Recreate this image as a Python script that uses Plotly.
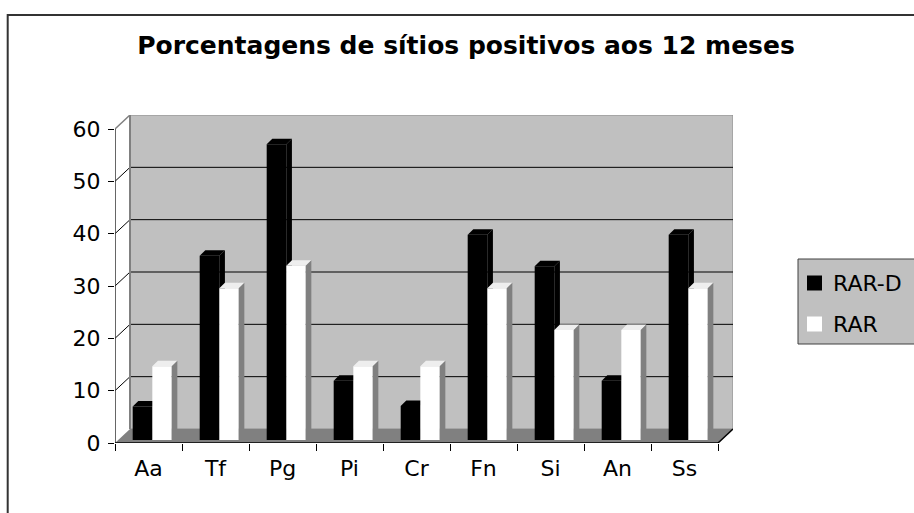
import plotly.graph_objects as go

# ---------------- data ----------------
categories = ["Aa", "Tf", "Pg", "Pi", "Cr", "Fn", "Si", "An", "Ss"]
rar_d = [6.4, 35.2, 56.5, 11.3, 6.5, 39.2, 33.2, 11.3, 39.2]
rar = [14.1, 29.0, 33.3, 14.1, 14.1, 29.0, 21.0, 21.0, 29.0]
y_ticks = [0, 10, 20, 30, 40, 50, 60]
series_names = ["RAR-D", "RAR"]
title_text = "Porcentagens de sítios positivos aos 12 meses"

# ---------------- geometry (screen pixels) ----------------
W, H = 914, 513
PLOT_L, PLOT_R, PLOT_T, PLOT_B = 115, 733, 115, 443
CAT_PX = 67.0
UNIT_PX = 314.0 / 60.0
X0 = -0.5
XMAX = X0 + (PLOT_R - PLOT_L) / CAT_PX
YMAX = (PLOT_B - PLOT_T) / UNIT_PX
NCAT = len(categories)
XEND = X0 + NCAT

WDX = 15 / CAT_PX      # wall depth
WDY = 14 / UNIT_PX
BDX = 5.6 / CAT_PX     # column depth
BDY = 5.5 / UNIT_PX
BAR_BASE = 3 / UNIT_PX
BLK_OFF, BLK_W = -0.236, 0.293
WHT_OFF, WHT_W = 0.057, 0.29
YTOP = max(y_ticks)

FONT = "DejaVu Sans"


def px_x(px):
    return (px - PLOT_L) / (PLOT_R - PLOT_L)


def px_y(py):
    return (PLOT_B - py) / (PLOT_B - PLOT_T)


def faces(values, off, width):
    """top + side faces of the pseudo-3D columns, in data coordinates"""
    tx, ty, sx, sy = [], [], [], []
    for i, v in enumerate(values):
        x0 = i + off
        x1 = x0 + width
        top = BAR_BASE + v
        tx += [x0, x0 + BDX, x1 + BDX, x1, x0, None]
        ty += [top, top + BDY, top + BDY, top, top, None]
        sx += [x1, x1, x1 + BDX, x1 + BDX, x1, None]
        sy += [BAR_BASE, top, top + BDY, BAR_BASE + BDY, BAR_BASE, None]
    return tx, ty, sx, sy


fig = go.Figure()

specs = [
    (rar_d, BLK_OFF, BLK_W, "#000000", "#000000", "#000000", 0, series_names[0]),
    (rar, WHT_OFF, WHT_W, "#FFFFFF", "#EEEEEE", "#808080", 1, series_names[1]),
]
for vals, off, wid, front, topc, sidec, z, name in specs:
    fig.add_trace(go.Bar(
        x=list(range(NCAT)), y=vals, base=BAR_BASE, offset=off, width=wid,
        marker=dict(color=front, line=dict(width=0)), name=name,
        showlegend=False, zorder=z, hoverinfo="skip"))
    tx, ty, sx, sy = faces(vals, off, wid)
    fig.add_trace(go.Scatter(x=tx, y=ty, mode="lines", fill="toself",
                             fillcolor=topc, line=dict(width=0, color=topc),
                             showlegend=False, hoverinfo="skip", zorder=z))
    fig.add_trace(go.Scatter(x=sx, y=sy, mode="lines", fill="toself",
                             fillcolor=sidec, line=dict(width=0, color=sidec),
                             showlegend=False, hoverinfo="skip", zorder=z))

shapes = []
# back wall
shapes.append(dict(type="rect", xref="x", yref="y", layer="below",
                   x0=X0 + WDX, x1=XMAX, y0=WDY, y1=YTOP + WDY,
                   fillcolor="#C0C0C0", line=dict(color="#8C8C8C", width=1)))
# floor
shapes.append(dict(type="path", xref="x", yref="y", layer="below",
                   path=f"M{X0},0 L{XEND},0 L{XEND + WDX},{WDY} L{X0 + WDX},{WDY} Z",
                   fillcolor="#808080", line=dict(width=0)))
# gridlines on back wall and side wall
for v in y_ticks[1:-1]:
    shapes.append(dict(type="line", xref="x", yref="y", layer="below",
                       x0=X0 + WDX, x1=XMAX, y0=v + WDY, y1=v + WDY,
                       line=dict(color="#000000", width=1)))
    shapes.append(dict(type="line", xref="x", yref="y", layer="below",
                       x0=X0, x1=X0 + WDX, y0=v, y1=v + WDY,
                       line=dict(color="#000000", width=1)))
# top edge of side wall
shapes.append(dict(type="line", xref="x", yref="y", layer="below",
                   x0=X0, x1=X0 + WDX, y0=YTOP, y1=YTOP + WDY,
                   line=dict(color="#808080", width=1.5)))
# back-left vertical edge
shapes.append(dict(type="line", xref="x", yref="y", layer="below",
                   x0=X0 + WDX, x1=X0 + WDX, y0=WDY, y1=YTOP + WDY,
                   line=dict(color="#808080", width=2)))
# front value axis line
shapes.append(dict(type="line", xref="x", yref="y", layer="above",
                   x0=X0, x1=X0, y0=0, y1=YTOP,
                   line=dict(color="#333333", width=1.5)))
# front category axis line + right diagonal
shapes.append(dict(type="line", xref="x", yref="y", layer="above",
                   x0=X0, x1=XEND, y0=0, y1=0,
                   line=dict(color="#000000", width=1.5)))
shapes.append(dict(type="line", xref="x", yref="y", layer="above",
                   x0=XEND, x1=XEND + WDX, y0=0, y1=WDY,
                   line=dict(color="#000000", width=1.5)))

# outer chart-area frame
shapes.append(dict(type="rect", xref="paper", yref="paper", layer="below",
                   x0=px_x(7.7), x1=px_x(1000), y0=px_y(600), y1=px_y(15),
                   fillcolor="rgba(0,0,0,0)", line=dict(color="#333333", width=2)))

# legend box
shapes.append(dict(type="rect", xref="paper", yref="paper", layer="above",
                   x0=px_x(798), x1=px_x(960), y0=px_y(344), y1=px_y(259),
                   fillcolor="#C0C0C0", line=dict(color="#404040", width=1)))
legend_rows = [(series_names[0], "#000000", 283), (series_names[1], "#FFFFFF", 324)]
annotations = []
for name, col, cy in legend_rows:
    shapes.append(dict(type="rect", xref="paper", yref="paper", layer="above",
                       x0=px_x(807), x1=px_x(822), y0=px_y(cy + 7.5), y1=px_y(cy - 7.5),
                       fillcolor=col, line=dict(width=0)))
    annotations.append(dict(text=name, xref="paper", yref="paper",
                            x=px_x(831), y=px_y(cy), xanchor="left", yanchor="middle",
                            showarrow=False, font=dict(family=FONT, size=22, color="#000000")))

fig.update_layout(
    width=W, height=H,
    margin=dict(l=PLOT_L, r=W - PLOT_R, t=PLOT_T, b=H - PLOT_B,
                pad=0, autoexpand=False),
    paper_bgcolor="#FFFFFF", plot_bgcolor="rgba(0,0,0,0)",
    barmode="overlay", showlegend=False,
    shapes=shapes, annotations=annotations,
    title=dict(text=title_text, xref="paper", x=px_x(466), xanchor="center",
               yref="container", y=1 - 45 / H, yanchor="middle",
               font=dict(family=FONT, size=25, color="#000000", weight="bold")),
    xaxis=dict(range=[X0, XMAX], tickvals=list(range(NCAT)), ticktext=categories,
               ticks="", showgrid=False, zeroline=False, showline=False,
               tickfont=dict(family=FONT, size=22, color="#000000"),
               ticklabelstandoff=10, fixedrange=True),
    xaxis2=dict(range=[X0, XMAX], overlaying="x", anchor="y", side="bottom",
                tickvals=[X0 + k for k in range(NCAT + 1)], showticklabels=False,
                ticks="outside", ticklen=7, tickcolor="#000000", tickwidth=1,
                showgrid=False, zeroline=False, showline=False, fixedrange=True),
    yaxis=dict(range=[0, YMAX], tickvals=y_ticks, ticks="outside", ticklen=6,
               tickcolor="#000000", tickwidth=1,
               showgrid=False, zeroline=False, showline=False,
               tickfont=dict(family=FONT, size=22, color="#000000"),
               ticklabelstandoff=3, fixedrange=True),
)
# invisible point on the overlay axis so that its boundary ticks are drawn
fig.add_trace(go.Scatter(x=[X0], y=[0], xaxis="x2", mode="markers",
                         marker=dict(opacity=0), showlegend=False, hoverinfo="skip"))

# remove the browser's default page margin so the figure sits at (0, 0)
fig.write_html("out.html", config={"displayModeBar": False},
               post_script="document.body.style.margin='0';")
